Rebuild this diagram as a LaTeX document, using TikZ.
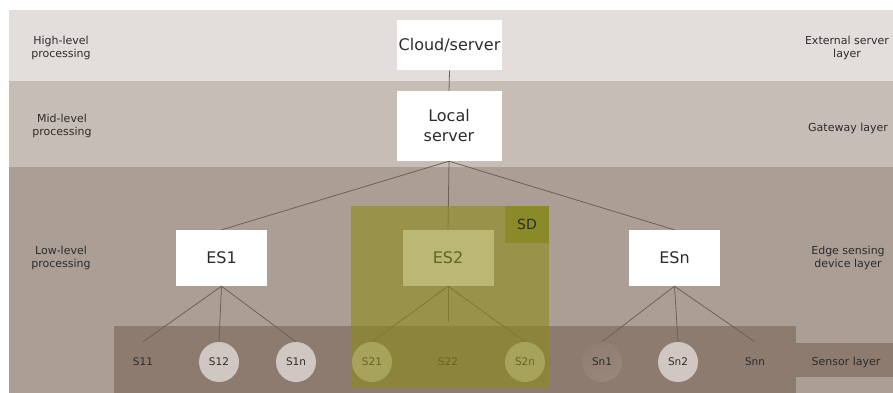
\documentclass[tikz,border=0pt]{standalone}
\usepackage{fontspec}
\setmainfont{DejaVu Sans}
\definecolor{bandA}{RGB}{227,222,219}
\definecolor{bandB}{RGB}{199,189,183}
\definecolor{bandC}{RGB}{171,158,149}
\definecolor{strip}{RGB}{142,123,111}
\definecolor{circ}{RGB}{208,199,194}
\definecolor{wirec}{RGB}{108,96,88}
\definecolor{txt}{RGB}{45,45,45}
\definecolor{sdfill}{RGB}{140,138,24}
\definecolor{sdtag}{RGB}{138,138,40}
\begin{document}
\begin{tikzpicture}[x=1pt,y=-1pt,
  box/.style={fill=white, draw=none, minimum width=91pt, minimum height=56pt, inner sep=0pt, font=\fontsize{16}{20}\selectfont, text=txt, align=center},
  sens/.style={circle, minimum size=40pt, inner sep=0pt, font=\fontsize{10.5}{12}\selectfont, text=txt},
  sensc/.style={sens, fill=circ},
  lay/.style={font=\fontsize{11}{13.5}\selectfont, text=txt, align=center},
  wire/.style={draw=wirec, line width=0.8pt}]
\useasboundingbox (0,0) rectangle (893,393);
% bands
\fill[bandA] (9,10) rectangle (893,81);
\fill[bandB] (9,81) rectangle (893,167);
\fill[bandC] (9,167) rectangle (893,393);
\fill[strip] (114,326) rectangle (796,393);
\fill[strip] (796,343) rectangle (893,377);
% layer labels
\node[lay] (hl) at (61,48) {High-level\\processing};
\node[lay] (ml) at (62,126) {Mid-level\\processing};
\node[lay] (ll) at (61,258) {Low-level\\processing};
\node[lay] (ext) at (847,48) {External server\\layer};
\node[lay] (gw) at (848,128) {Gateway layer};
\node[lay] (edge) at (848,258) {Edge sensing\\device layer};
\node[lay] (sl) at (846,362) {Sensor layer};
% servers
\node[box, minimum width=105pt, minimum height=50pt] (cloud) at (449.5,45.5) {Cloud/server};
\node[box, minimum width=105pt, minimum height=70pt] (local) at (449,126) {Local\\server};
% edge devices
\node[box] (es1) at (221.5,258) {ES1};
\node[box] (es2) at (448,258) {ES2};
\node[box] (esn) at (674.5,258) {ESn};
% sensors
\node[sens] (s11) at (143,362) {S11};
\node[sensc] (s12) at (219,362) {S12};
\node[sensc] (s1n) at (296,362) {S1n};
\node[sensc] (s21) at (372,362) {S21};
\node[sens] (s22) at (448,362) {S22};
\node[sensc] (s2n) at (525,362) {S2n};
\node[sens, top color=strip!96!circ, bottom color=strip!85!circ, shading angle=20] (sn1) at (602,362) {Sn1};
\node[sensc] (sn2) at (678,362) {Sn2};
\node[sens] (snn) at (755,362) {Snn};
\coordinate (s22top) at (448,322);
% connectors
\draw[wire] (cloud.south) -- (local.north);
\draw[wire] (local.south) -- (es1.north);
\draw[wire] (local.south) -- (es2.north);
\draw[wire] (local.south) -- (esn.north);
\draw[wire] (es1.south) -- (s11.north);
\draw[wire] (es1.south) -- (s12.north);
\draw[wire] (es1.south) -- (s1n.north);
\draw[wire] (es2.south) -- (s21.north);
\draw[wire] (es2.south) -- (s22top);
\draw[wire] (es2.south) -- (s2n.north);
\draw[wire] (esn.south) -- (sn1.north);
\draw[wire] (esn.south) -- (sn2.north);
\draw[wire] (esn.south) -- (snn.north);
% sensing device overlay
\fill[sdfill, opacity=0.6] (351,206) rectangle (549,388);
\node[fill=sdtag, minimum width=44pt, minimum height=37pt, inner sep=0pt, text=txt, font=\fontsize{14}{16}\selectfont] (sd) at (527,224.5) {SD};
\end{tikzpicture}
\end{document}
